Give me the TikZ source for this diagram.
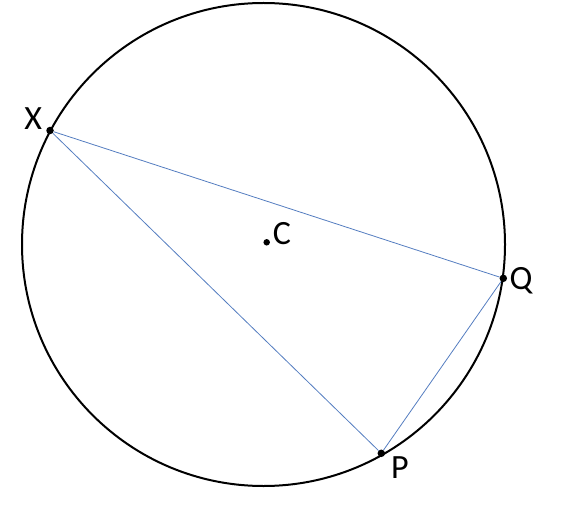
\documentclass[tikz,border=0pt]{standalone}
\usepackage{fontspec}
\setmainfont{Carlito}
\definecolor{chord}{RGB}{84,125,192}
\begin{document}
\begin{tikzpicture}[x=1pt,y=-1pt,
  dot/.style={circle,fill=black,inner sep=0pt,minimum size=7.5pt},
  lbl/.style={inner sep=0pt,anchor=base,font=\fontsize{34}{36}\selectfont},
  chordline/.style={draw=chord,line width=0.8pt},
  rim/.style={draw=black,line width=2pt}]
\useasboundingbox (0,0) rectangle (562,513);
\coordinate (O) at (263.5,244.5);
\draw[rim] (O) circle (241.5);
\node[dot] (X) at (50,130.5) {};
\node[dot] (Q) at (503.3,278.3) {};
\node[dot] (P) at (381.3,453.3) {};
\node[circle,fill=black,inner sep=0pt,minimum size=6.5pt] (C) at (266.7,242.3) {};
\draw[chordline] (X) -- (Q);
\draw[chordline] (X) -- (P);
\draw[chordline] (Q) -- (P);
\node[lbl] (lX) at (33.3,130) {X};
\node[lbl] (lQ) at (521,289) {Q};
\node[lbl] (lP) at (400,478.5) {P};
\node[lbl] (lC) at (282,244.5) {C};
\end{tikzpicture}
\end{document}
